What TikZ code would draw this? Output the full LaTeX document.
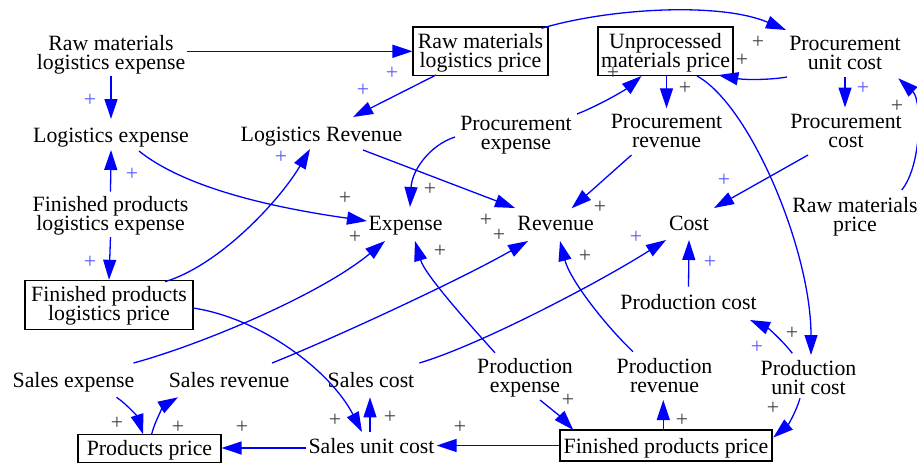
\documentclass[tikz,border=0pt]{standalone}
\usepackage{fontspec}
\setmainfont{Liberation Serif}
\usetikzlibrary{arrows.meta,calc}
\definecolor{ab}{RGB}{0,0,255}
\definecolor{pblue}{RGB}{85,85,255}
\definecolor{pgray}{RGB}{64,64,64}
\newcommand\hs{\vrule width0pt height15pt\relax}
\newcommand\ds{\vrule width0pt depth5pt\relax}
\newcommand\bhs{\vrule width0pt height18pt\relax}
\newcommand\bds{\vrule width0pt depth3pt\relax}
\AtBeginDocument{\lineskiplimit=-50pt\relax}
\tikzset{
  tfont/.style={font=\fontsize{21.8}{19}\selectfont},
  tn/.style={tfont, inner sep=2pt, align=center},
  tone/.style={tn, text height=15pt, text depth=5pt},
  bx/.style={tfont, draw, line width=1.1pt, inner xsep=3pt, inner ysep=3.5pt, align=center},
  bxone/.style={bx, text height=18pt, text depth=3pt},
  arr/.style={draw=ab, line width=1.3pt, -{Triangle[length=20pt,width=13pt]}},
  pb/.style={tfont, text=pblue, inner sep=0pt},
  pg/.style={tfont, text=pgray, inner sep=0pt}
}
\begin{document}
\begin{tikzpicture}[x=1pt,y=-1pt]
\useasboundingbox (0,0) rectangle (917,464);
% nodes
\node[tn] (RMLE) at (111,54.5) {\hs Raw materials\\logistics expense\ds};
\node[bx, minimum width=135pt] (RMLP) at (480.5,51.3) {\bhs Raw materials\\logistics price\bds};
\node[bx, minimum width=135pt] (UMP) at (665.5,51.3) {\bhs Unprocessed\\materials price\bds};
\node[tn] (PUC) at (845,54.5) {\hs Procurement\\unit cost\ds};
\node[tone] (LE) at (111,137.7) {Logistics expense};
\node[tone] (LR) at (321.5,136.7) {Logistics Revenue};
\node[tn] (PE) at (516,134.5) {\hs Procurement\\expense\ds};
\node[tn] (PR) at (666.5,133) {\hs Procurement\\revenue\ds};
\node[tn] (PC) at (846,132.5) {\hs Procurement\\cost\ds};
\node[tn] (FPLE) at (110.5,216.2) {\hs Finished products\\logistics expense\ds};
\node[tone] (Exp) at (405.6,225) {Expense};
\node[tone] (Rev) at (555.6,225) {Revenue};
\node[tone] (Cost) at (689,225) {Cost};
\node[tn] (RMP) at (855,216.5) {\hs Raw materials\\price\ds};
\node[bx, minimum width=168pt] (FPLP) at (109,304.7) {\bhs Finished products\\logistics price\bds};
\node[tone] (ProdC) at (688.5,304) {Production cost};
\node[tone] (SE) at (73.5,382) {Sales expense};
\node[tone] (SR) at (229,382) {Sales revenue};
\node[tone] (SC) at (371,382) {Sales cost};
\node[tn] (PrE) at (525,377.8) {\hs Production\\expense\ds};
\node[tn] (PrR) at (664.5,377.5) {\hs Production\\revenue\ds};
\node[tn] (PUC2) at (808.5,379.5) {\hs Production\\unit cost\ds};
\node[bxone, minimum width=143pt] (PP) at (149.5,448.2) {Products price};
\node[tone] (SUC) at (371.5,448) {Sales unit cost};
\node[bxone, minimum width=212pt, minimum height=31pt] (FPP) at (666,445.5) {Finished products price};
% connectors
\draw[arr] (RMLE.east |- RMLP.west) -- (RMLP.west);
\draw[arr] ($(RMLE)+(0,21.5)$) -- ($(LE)+(0,-18.7)$);
\draw[arr] ($(RMLP)+(-44.5,23.7)$) -- ($(LR)+(31.5,-19.7)$);
\draw[arr] ($(RMLP)+(61,-23)$) .. controls (610,8) and (720,2) .. ($(PUC)+(-59,-24.5)$);
\draw[arr] ($(PUC)+(-58,22.5)$) .. controls (770,80) and (745,80) .. ($(UMP)+(52.8,23.7)$);
\draw[arr] ($(UMP)+(1,24.7)$) -- ($(PR)+(0,-24.7)$);
\draw[arr] ($(UMP)+(31.5,24.7)$) .. controls (750,105) and (811,250) .. ($(PUC2)+(2.5,-24.5)$);
\draw[arr] ($(PE)+(61,-20.5)$) .. controls (600,105) and (625,90) .. ($(UMP)+(-24,24.7)$);
\draw[arr] ($(PE)+(-61,2.5)$) .. controls (430,145) and (412,170) .. ($(Exp)+(4.4,-18)$);
\draw[arr] ($(LE)+(28,13.3)$) .. controls (190,192) and (290,210) .. ($(Exp)+(-38.6,-4)$);
\draw[arr] ($(LR)+(41.5,13.3)$) -- ($(Rev)+(-40.6,-17)$);
\draw[arr] ($(PR)+(-35,22)$) -- ($(Rev)+(16,-16.7)$);
\draw[arr] ($(PC)+(-38,22.5)$) -- ($(Cost)+(25,-17)$);
\draw[arr] ($(RMP)+(46.7,-26.5)$) .. controls (922,165) and (922,100) .. ($(PUC)+(53.3,23.8)$);
\draw[arr] ($(PUC)+(0,22.5)$) -- ($(PC)+(-1,-25)$);
\draw[arr] ($(FPLE)+(0,-24.5)$) -- ($(LE)+(0,12.3)$);
\draw[arr] ($(FPLE)+(0,21)$) -- (FPLP.north);
\draw[arr] ($(FPLP)+(56,-23)$) .. controls (220,265) and (280,200) .. ($(LR)+(-11.5,12.3)$);
\draw[arr] ($(FPLP)+(84,3.3)$) .. controls (260,318) and (330,370) .. ($(SUC)+(-9.5,-16)$);
\draw[arr] ($(SE)+(60,-19)$) .. controls (200,345) and (320,295) .. ($(Exp)+(-20.6,16)$);
\draw[arr] ($(SE)+(43,15.3)$) .. controls (128,405) and (138,418) .. ($(PP)+(-6.5,-14)$);
\draw[arr] ($(PP)+(2,-13.5)$) .. controls (155,420) and (165,405) .. ($(SR)+(-51,15.3)$);
\draw[arr] ($(SR)+(43,-19)$) .. controls (330,340) and (460,280) .. ($(Rev)+(-27.6,16)$);
\draw[arr] ($(SC)+(48.3,-19)$) .. controls (480,345) and (600,282) .. ($(Cost)+(-23,15)$);
\draw[arr] ($(PrE)+(-30,-25)$) .. controls (470,325) and (425,275) .. ($(Exp)+(9.4,16)$);
\draw[arr] ($(PrR)+(-31.5,-25.8)$) .. controls (605,325) and (570,280) .. ($(Rev)+(4.4,16)$);
\draw[arr] ($(ProdC)+(0,-17.3)$) -- ($(Cost)+(0,15)$);
\draw[arr] ($(PUC2)+(-16.2,-26.2)$) .. controls (782,340) and (768,328) .. ($(ProdC)+(61.5,16)$);
\draw[arr] ($(PUC2)+(-8.5,18.8)$) .. controls (796,412) and (788,425) .. ($(FPP)+(107.3,-8)$);
\draw[arr] ($(PrE)+(15,22.2)$) .. controls (550,408) and (562,418) .. ($(FPP)+(-92.7,-15.5)$);
\draw[arr] ($(FPP)+(-2.7,-15)$) -- ($(PrR)+(-1.2,22.5)$);
\draw[arr] (FPP.west) -- (FPP.west -| SUC.east);
\draw[arr] ($(SUC)+(-1.5,-16.3)$) -- ($(SC)+(-1,15.3)$);
\draw[arr] (SUC.west) -- (SUC.west -| PP.east);
% polarity labels
\node[pb] (p1) at (392,73) {+};
\node[pb] (p2) at (90,100) {+};
\node[pb] (p3) at (363,90) {+};
\node[pg] (p4) at (758,42) {+};
\node[pg] (p5) at (742,60) {+};
\node[pg] (p6) at (685,88) {+};
\node[pg] (p7) at (792,333) {+};
\node[pg] (p8) at (613,73) {+};
\node[pg] (p9) at (430,189) {+};
\node[pg] (p10) at (345,198) {+};
\node[pg] (p11) at (486,220) {+};
\node[pg] (p12) at (600,207) {+};
\node[pb] (p13) at (724,180) {+};
\node[pg] (p14) at (897,106) {+};
\node[pb] (p15) at (863,88) {+};
\node[pb] (p16) at (132,174) {+};
\node[pb] (p17) at (90,262) {+};
\node[pb] (p18) at (281,157) {+};
\node[pg] (p19) at (335,420) {+};
\node[pg] (p20) at (355,237) {+};
\node[pg] (p21) at (117,423) {+};
\node[pg] (p22) at (178,427) {+};
\node[pg] (p23) at (499,235) {+};
\node[pb] (p24) at (636,237) {+};
\node[pg] (p25) at (440,251) {+};
\node[pg] (p26) at (585,256) {+};
\node[pb] (p27) at (710,262) {+};
\node[pb] (p28) at (757,347) {+};
\node[pg] (p29) at (773,408) {+};
\node[pg] (p30) at (568,400) {+};
\node[pg] (p31) at (682,420) {+};
\node[pg] (p32) at (460,427) {+};
\node[pg] (p33) at (390,417) {+};
\node[pg] (p34) at (242,427) {+};
\end{tikzpicture}
\end{document}
